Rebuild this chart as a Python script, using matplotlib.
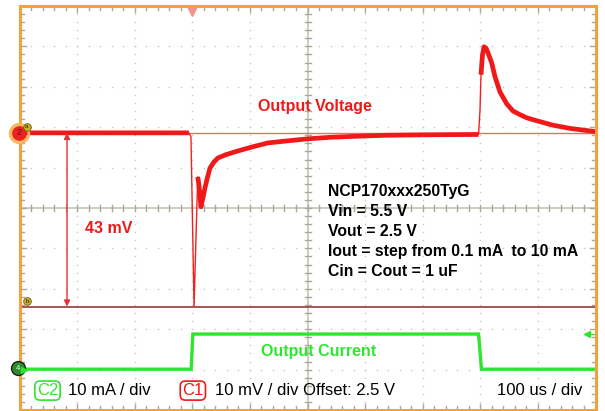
import numpy as np
import matplotlib
matplotlib.use("Agg")
import matplotlib.pyplot as plt

plt.rcParams["font.family"] = ["Liberation Sans", "DejaVu Sans"]

# Channel 1: output voltage deviation from the 2.5 V offset (mV), 10 mV/div
v_time_us = [0, 100, 200, 294, 297.7, 303, 309.4, 311.6, 315, 318.6, 322, 326.4,
             330.7, 337.7, 344.6, 358.5, 374, 403.6, 431, 464, 499, 539, 574,
             635, 695, 797, 799.5, 801.2, 803.8, 806.4, 809.9, 813.4, 819.8,
             825.5, 834.2, 845.8, 856.8, 869, 881, 898, 926, 956, 1000]
v_mv = [0, 0, 0, 0, -1, -43, -10.9, -13, -18.3, -16, -13.6, -11,
        -8.7, -7.2, -6.2, -5.4, -4.7, -3.5, -2.5, -2.0, -1.5, -1.1, -0.9,
        -0.6, -0.5, -0.4, 5.7, 14.4, 19.3, 21.3, 21.0, 19.8, 17.3,
        13.9, 10.1, 7.2, 5.4, 4.5, 3.7, 3.0, 1.9, 1.1, 0.3]

# Channel 2: load current (mA), 10 mA/div
i_time_us = [0, 298, 301, 797, 802, 1000]
i_ma = [0.1, 0.1, 8.8, 8.8, 0.1, 0.1]

# Cursor levels on channel 1 (mV)
cursor_a_mv = 0
cursor_b_mv = -43

info_lines = ["NCP170xxx250TyG", "Vin = 5.5 V", "Vout = 2.5 V",
              "Iout = step from 0.1 mA  to 10 mA", "Cin = Cout = 1 uF"]

# Screen layout: 10 x 10 divisions, 100 us/div horizontally
ch1_pos = 1.86      # divisions
ch2_pos = -4.0      # divisions
ch1_scale = 10.0    # mV/div
ch2_scale = 10.0    # mA/div

W, H = 605, 411
fig = plt.figure(figsize=(W / 100, H / 100), dpi=100)
fig.patch.set_facecolor("white")
ax = fig.add_axes([19.5 / W, 1 / H, 576 / W, 404 / H])
ax.set_xlim(0, 1000)
ax.set_ylim(-5, 5)
ax.axis("off")

px_x = 1000 / 576.0
px_y = 10 / 404.0

grid_col = "#c8c8c0"
tick_col = "#aaa898"

# dotted graticule
minor_x = np.arange(0, 1000.1, 20)
minor_y = np.arange(-5, 5.01, 0.2)
for gx in range(100, 1000, 100):
    if gx == 500:
        continue
    ax.plot(np.full_like(minor_y, gx), minor_y, ls="none", marker="s", ms=1.0,
            mfc=grid_col, mec="none", zorder=1)
for gy in range(-4, 5):
    if gy == 0:
        continue
    ax.plot(minor_x, np.full_like(minor_x, gy), ls="none", marker="s", ms=1.0,
            mfc=grid_col, mec="none", zorder=1)

# centre cross with minor ticks
ax.axhline(0, color=grid_col, lw=1.3, zorder=1)
ax.axvline(500, color=grid_col, lw=1.3, zorder=1)
for mx in minor_x:
    ax.plot([mx, mx], [-3 * px_y, 3 * px_y], color=tick_col, lw=1, zorder=1)
for my in minor_y:
    ax.plot([500 - 3 * px_x, 500 + 3 * px_x], [my, my], color=tick_col, lw=1, zorder=1)

# border ticks
for mx in minor_x:
    L = 6 if abs(mx / 100 - round(mx / 100)) < 1e-6 else 4
    ax.plot([mx, mx], [5, 5 - L * px_y], color=tick_col, lw=1, zorder=1)
    ax.plot([mx, mx], [-5, -5 + L * px_y], color=tick_col, lw=1, zorder=1)
for my in minor_y:
    L = 6 if abs(my - round(my)) < 1e-6 else 4
    ax.plot([0, L * px_x], [my, my], color=tick_col, lw=1, zorder=1)
    ax.plot([1000, 1000 - L * px_x], [my, my], color=tick_col, lw=1, zorder=1)

# cursor lines
ya = ch1_pos + cursor_a_mv / ch1_scale
yb = ch1_pos + cursor_b_mv / ch1_scale
ax.axhline(ya, color="#f06a6a", lw=1.0, zorder=2)
ax.axhline(yb, color="#a04848", lw=1.3, zorder=2)

# current trace
it = np.array(i_time_us, float)
iy = ch2_pos + np.array(i_ma) / ch2_scale
ax.plot(it, iy, color="#2ee62e", lw=1.0, zorder=3)
ax.plot(it, iy, color="#2ee62e", lw=2.4, zorder=3, solid_capstyle="butt",
        solid_joinstyle="miter")

# voltage trace: thin through the fast edges, wide noisy band elsewhere
vt = np.array(v_time_us, float)
vy = ch1_pos + np.array(v_mv) / ch1_scale
ax.plot(vt, vy, color="#f42020", lw=1.0, zorder=4)
slow = (vt <= 294) | ((vt >= 309) & (vt <= 797)) | (vt >= 801)
vy_slow = np.where(slow, vy, np.nan)
ax.plot(vt, vy_slow, color="#f01818", lw=3.4, zorder=4, solid_capstyle="butt",
        solid_joinstyle="round")

# 43 mV arrow
ax.annotate("", xy=(82.5, yb), xytext=(82.5, ya),
            arrowprops=dict(arrowstyle="<|-|>", color="#e83030", lw=1.0,
                            mutation_scale=9, shrinkA=0, shrinkB=0), zorder=5)

# border
for sp in [([0, 0], [-5, 5]), ([1000, 1000], [-5, 5]), ([0, 1000], [5, 5]),
           ([0, 1000], [-5, -5])]:
    ax.plot(*sp, color="#f2a23a", lw=2.2, clip_on=False, zorder=6)

# channel markers
ax.plot(-1, ch1_pos, "o", ms=13, mfc="#ee2020", mec="#f8b860", mew=2.4,
        clip_on=False, zorder=7)
ax.text(-1, ch1_pos, "2", fontsize=6.5, ha="center", va="center", color="#5a1010",
        zorder=8, clip_on=False)
ax.plot(7, ch1_pos, ">", ms=4.5, color="#ee2020", zorder=7, clip_on=False)
ax.plot(-2, ch2_pos + 0.03, "o", ms=10, mfc="#2d8a2d", mec="#202020", mew=1.0,
        clip_on=False, zorder=7)
ax.text(-2, ch2_pos + 0.03, "4", fontsize=5.5, ha="center", va="center",
        color="#e0ffe0", zorder=8, clip_on=False)
ax.plot(8, ch2_pos, ">", ms=4.5, color="#2ee62e", zorder=7, clip_on=False)

# cursor tags
for yy, lab in [(ya + 0.15, "a"), (yb + 0.13, "b")]:
    ax.plot(13, yy, "o", ms=5.5, mfc="#c8b020", mec="#6a5a10", mew=0.6, zorder=7)
    ax.text(13, yy, lab, fontsize=4.5, ha="center", va="center", color="#202000",
            zorder=8)

# trigger markers
ax.plot(300, 5 - 6 * px_y, "v", ms=6, color="#f39090", zorder=7)
ax.plot(985, ch2_pos + 8.8 / ch2_scale, "<", ms=4, color="#2ee62e", zorder=7)
ax.plot([985, 997], [ch2_pos + 0.88] * 2, color="#2ee62e", lw=1, zorder=7)

# labels
ax.text(513, 2.52, "Output Voltage", color="#f01818", fontsize=11.5,
        fontweight="bold", ha="center", va="center", zorder=9)
ax.text(114, -0.5, "43 mV", color="#f01818", fontsize=11.5, fontweight="bold",
        ha="left", va="center", zorder=9)
ax.text(520, -3.56, "Output Current", color="#2ee62e", fontsize=11.5,
        fontweight="bold", ha="center", va="center", zorder=9)
for k, line in enumerate(info_lines):
    ax.text(535.6, 0.40 - k * 0.495, line, color="black", fontsize=11.3,
            fontweight="bold", ha="left", va="center", zorder=9)

yb_row = -4.52
ax.text(48.6, yb_row, "C2", color="#2ee62e", fontsize=12, ha="center", va="center",
        bbox=dict(boxstyle="round,pad=0.12,rounding_size=0.3", fc="white",
                  ec="#2ee62e", lw=1.2), zorder=9)
ax.text(84, yb_row, "10 mA / div", color="black", fontsize=12, ha="left",
        va="center", zorder=9)
ax.text(301, yb_row, "C1", color="#f01818", fontsize=12, ha="center", va="center",
        bbox=dict(boxstyle="round,pad=0.12,rounding_size=0.3", fc="white",
                  ec="#f01818", lw=1.2), zorder=9)
ax.text(339.4, yb_row, "10 mV / div Offset: 2.5 V", color="black", fontsize=12,
        ha="left", va="center", zorder=9)
ax.text(976.6, yb_row, "100 us / div", color="black", fontsize=12, ha="right",
        va="center", zorder=9)

fig.savefig("out.png", dpi=100, facecolor="white")
